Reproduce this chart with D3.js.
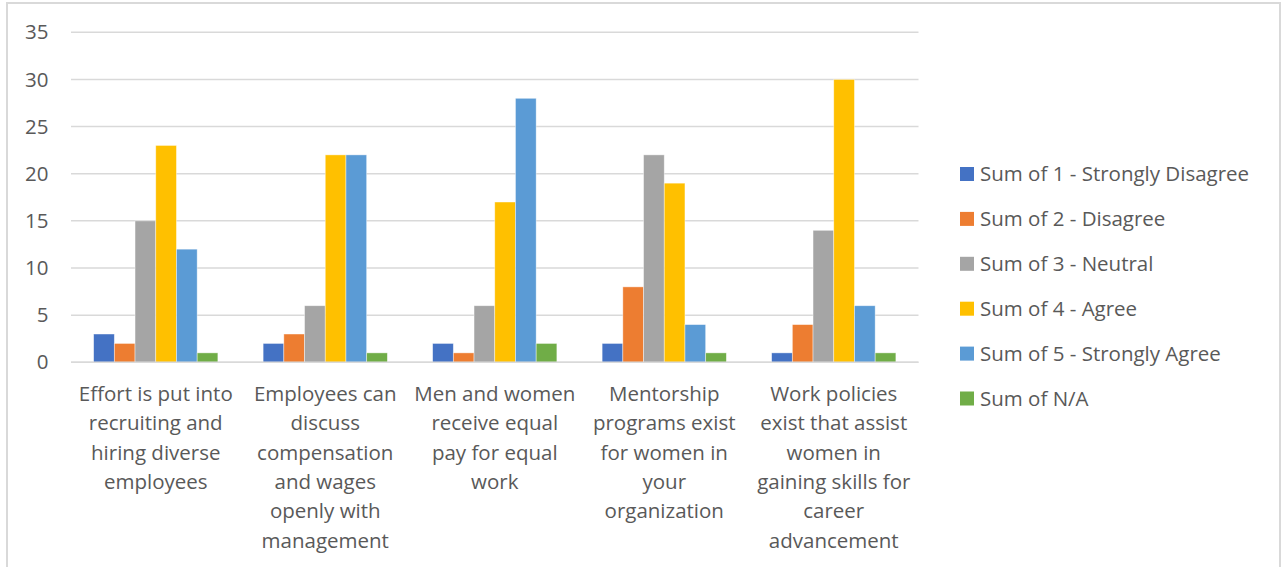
<!DOCTYPE html>
<html>
<head>
<meta charset="utf-8">
<script src="https://cdn.jsdelivr.net/npm/d3@7"></script>
<style>
  html, body { margin: 0; padding: 0; background: #ffffff; }
  svg { display: block; }
  text { font-family: "Open Sans", "Noto Sans", sans-serif; fill: #595959; }
</style>
</head>
<body>
<svg id="chart" width="1282" height="567"></svg>
<script>
// Survey statements (line breaks mark how each label wraps under its group)
const categories = [
  "Effort is put into\nrecruiting and\nhiring diverse\nemployees",
  "Employees can\ndiscuss\ncompensation\nand wages\nopenly with\nmanagement",
  "Men and women\nreceive equal\npay for equal\nwork",
  "Mentorship\nprograms exist\nfor women in\nyour\norganization",
  "Work policies\nexist that assist\nwomen in\ngaining skills for\ncareer\nadvancement"
];

const seriesNames = [
  "Sum of 1 - Strongly Disagree",
  "Sum of 2 - Disagree",
  "Sum of 3 - Neutral",
  "Sum of 4 - Agree",
  "Sum of 5 - Strongly Agree",
  "Sum of N/A"
];

const seriesColors = ["#4472C4", "#ED7D31", "#A5A5A5", "#FFC000", "#5B9BD5", "#70AD47"];

// Response counts, one array per series, in category order
const stronglyDisagree = [3, 2, 2, 2, 1];
const disagree         = [2, 3, 1, 8, 4];
const neutral          = [15, 6, 6, 22, 14];
const agree            = [23, 22, 17, 19, 30];
const stronglyAgree    = [12, 22, 28, 4, 6];
const notApplicable    = [1, 1, 2, 1, 1];

const yTicks = [0, 5, 10, 15, 20, 25, 30, 35];

const seriesValues = [stronglyDisagree, disagree, neutral, agree, stronglyAgree, notApplicable];

const FONT_SIZE = 20.5;

const svg = d3.select("#chart");

// Outer chart frame
svg.append("rect")
  .attr("x", 7).attr("y", 3)
  .attr("width", 1273).attr("height", 600)
  .attr("fill", "#ffffff")
  .attr("stroke", "#d9d9d9").attr("stroke-width", 2);

const plot = { left: 71, right: 918.5, top: 32.3, bottom: 362.3 };

const x0 = d3.scaleBand()
  .domain(d3.range(categories.length))
  .range([plot.left, plot.right])
  .paddingInner(0)
  .paddingOuter(0);

// Bars fill about 73% of each category slot (Excel gap width ~219%)
const groupWidth = x0.bandwidth() * 0.733;
const x1 = d3.scaleBand()
  .domain(d3.range(seriesNames.length))
  .range([0, groupWidth])
  .padding(0);

const y = d3.scaleLinear().domain([0, 35]).range([plot.bottom, plot.top]);

// Horizontal gridlines
svg.append("g")
  .selectAll("line")
  .data(yTicks)
  .join("line")
  .attr("x1", plot.left).attr("x2", plot.right)
  .attr("y1", d => y(d)).attr("y2", d => y(d))
  .attr("stroke", "#d9d9d9").attr("stroke-width", 1.5);

// Value axis labels
const yAxis = d3.axisLeft(y).tickValues(yTicks).tickSize(0).tickPadding(0);
const yAxisG = svg.append("g")
  .attr("transform", `translate(48.5,0)`)
  .call(yAxis);
yAxisG.select(".domain").remove();
yAxisG.selectAll("text")
  .attr("font-size", FONT_SIZE)
  .attr("font-family", "\"Open Sans\", sans-serif")
  .attr("fill", "#595959");

// Clustered bars
const groups = svg.append("g")
  .selectAll("g")
  .data(categories.map((c, i) => i))
  .join("g")
  .attr("transform", i => `translate(${x0(i) + (x0.bandwidth() - groupWidth) / 2},0)`);

groups.selectAll("rect")
  .data(ci => seriesValues.map((vals, si) => ({ si, v: vals[ci] })))
  .join("rect")
  .attr("x", d => x1(d.si))
  .attr("width", x1.bandwidth())
  .attr("y", d => y(d.v))
  .attr("height", d => y(0) - y(d.v))
  .attr("fill", d => seriesColors[d.si])
  .attr("stroke", "#ffffff").attr("stroke-opacity", 0.55).attr("stroke-width", 0.75);

// Baseline
svg.append("line")
  .attr("x1", plot.left).attr("x2", plot.right)
  .attr("y1", y(0)).attr("y2", y(0))
  .attr("stroke", "#d9d9d9").attr("stroke-width", 1.5);

// Category labels, wrapped onto several centred lines
const catLabels = svg.append("g")
  .selectAll("text")
  .data(categories.map((c, i) => ({ i, lines: c.split("\n") })))
  .join("text")
  .attr("text-anchor", "middle")
  .attr("font-size", FONT_SIZE);

catLabels.selectAll("tspan")
  .data(d => d.lines.map((line, k) => ({ line, k, i: d.i })))
  .join("tspan")
  .attr("x", d => x0(d.i) + x0.bandwidth() / 2)
  .attr("y", d => 401 + d.k * 29.3)
  .text(d => d.line);

// Legend
const legend = svg.append("g")
  .selectAll("g")
  .data(seriesNames.map((name, i) => ({ name, i })))
  .join("g")
  .attr("transform", d => `translate(960,${174 + d.i * 44.9})`);

legend.append("rect")
  .attr("x", 0).attr("y", -7)
  .attr("width", 14).attr("height", 14)
  .attr("fill", d => seriesColors[d.i]);

legend.append("text")
  .attr("x", 20).attr("y", 7)
  .attr("font-size", FONT_SIZE)
  .text(d => d.name);
</script>
</body>
</html>
